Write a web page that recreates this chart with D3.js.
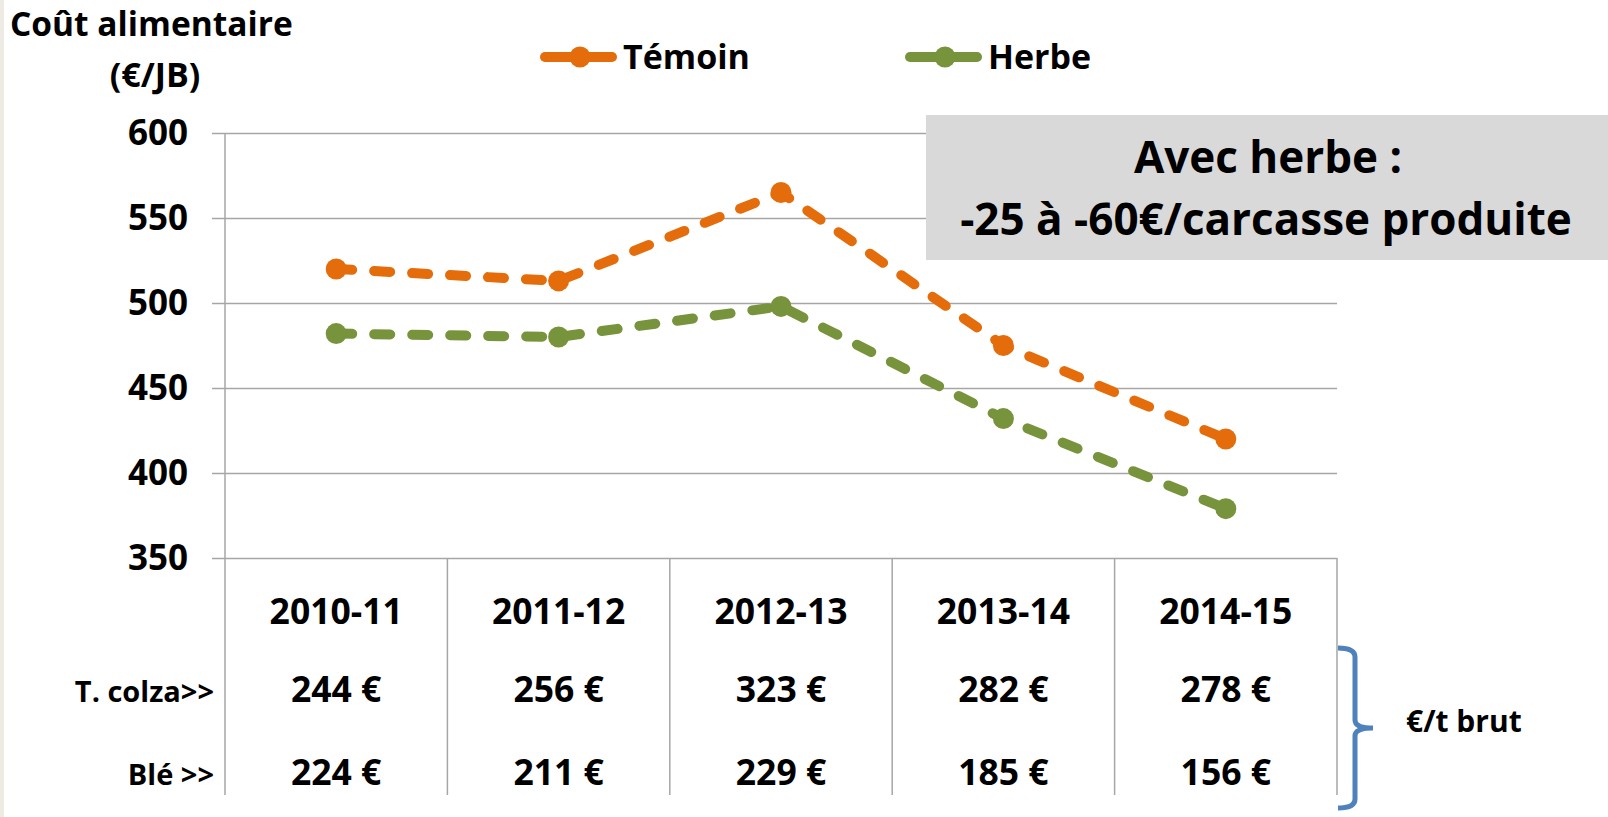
<!DOCTYPE html>
<html>
<head>
<meta charset="utf-8">
<script src="https://cdn.jsdelivr.net/npm/d3@7"></script>
<style>
  body { margin: 0; background: #fff; }
  svg { display: block; font-family: "Open Sans", sans-serif; font-weight: 700; }
</style>
</head>
<body>
<svg id="chart" width="1608" height="817"></svg>
<script>
const years = ["2010-11", "2011-12", "2012-13", "2013-14", "2014-15"];
const temoin = [520, 513, 565, 475, 420];
const herbe = [482, 480, 498, 432, 379];
const colza = [244, 256, 323, 282, 278];
const ble = [224, 211, 229, 185, 156];
const yTicks = [350, 400, 450, 500, 550, 600];

const orange = "#e46c0a";
const green = "#77933c";
const grid = "#a6a6a6";

let svg = d3.select("#chart");
let plotLeft = 225, plotRight = 1337, plotTop = 133, plotBottom = 558, tableBottom = 795;

let x = d3.scaleBand().domain(years).range([plotLeft, plotRight]);
let y = d3.scaleLinear().domain([350, 600]).range([plotBottom, plotTop]);

// slide edge
svg.append("rect").attr("x", 0).attr("y", 0).attr("width", 4).attr("height", 817).attr("fill", "#eeebe4");

// gridlines
svg.append("g")
    .attr("transform", "translate(" + plotLeft + ",0)")
    .call(d3.axisLeft(y).tickValues(yTicks).tickSize(-(plotRight - plotLeft)).tickFormat(""))
    .call(g => g.select(".domain").remove())
    .call(g => g.selectAll("line").attr("stroke", grid).attr("stroke-width", 1.5));

// y axis
svg.append("g")
    .attr("transform", "translate(" + plotLeft + ",0)")
    .call(d3.axisLeft(y).tickValues(yTicks).tickSize(13).tickPadding(24))
    .call(g => g.select(".domain").remove())
    .call(g => g.selectAll("line").attr("stroke", grid).attr("stroke-width", 1.5))
    .call(g => g.selectAll("text")
        .attr("font-family", "Open Sans").attr("font-weight", 700)
        .attr("font-size", 35).attr("fill", "#000"));

svg.append("line")
    .attr("x1", plotLeft).attr("x2", plotLeft).attr("y1", plotTop).attr("y2", tableBottom)
    .attr("stroke", grid).attr("stroke-width", 1.5);

// table separators
let bounds = years.map(d => x(d) + x.bandwidth());
svg.selectAll(".sep").data(bounds).enter().append("line")
    .attr("x1", d => d).attr("x2", d => d)
    .attr("y1", plotBottom).attr("y2", tableBottom)
    .attr("stroke", grid).attr("stroke-width", 1.5);

// series
let line = d3.line()
    .x((d, i) => x(years[i]) + x.bandwidth() / 2)
    .y(d => y(d));

[[temoin, orange], [herbe, green]].forEach(([vals, col]) => {
    svg.append("path")
        .datum(vals)
        .attr("d", line)
        .attr("fill", "none")
        .attr("stroke", col)
        .attr("stroke-width", 10)
        .attr("stroke-dasharray", "16,22")
        .attr("stroke-linecap", "round");
    svg.selectAll(null).data(vals).enter().append("circle")
        .attr("cx", (d, i) => x(years[i]) + x.bandwidth() / 2)
        .attr("cy", d => y(d))
        .attr("r", 10.5)
        .attr("fill", col);
});

// legend
let legend = [["Témoin", orange, 545], ["Herbe", green, 910]];
legend.forEach(([name, col, lx]) => {
    svg.append("line")
        .attr("x1", lx).attr("x2", lx + 67).attr("y1", 57).attr("y2", 57)
        .attr("stroke", col).attr("stroke-width", 10).attr("stroke-linecap", "round");
    svg.append("circle").attr("cx", lx + 35).attr("cy", 57).attr("r", 10.5).attr("fill", col);
    svg.append("text").attr("x", lx + 78).attr("y", 69)
        .attr("font-size", 34).text(name);
});

// y title
svg.append("text").attr("x", 10).attr("y", 36).attr("font-size", 33.5).text("Coût alimentaire");
svg.append("text").attr("x", 155).attr("y", 87).attr("font-size", 34)
    .attr("text-anchor", "middle").text("(€/JB)");

// annotation box
svg.append("rect").attr("x", 926).attr("y", 115).attr("width", 682).attr("height", 145)
    .attr("fill", "#d9d9d9");
svg.append("text").attr("x", 1268).attr("y", 173).attr("font-size", 44)
    .attr("text-anchor", "middle").text("Avec herbe :");
svg.append("text").attr("x", 1266).attr("y", 235).attr("font-size", 44)
    .attr("text-anchor", "middle").text("-25 à -60€/carcasse produite");

// table rows
let cx = d => x(d) + x.bandwidth() / 2;
svg.selectAll(".yr").data(years).enter().append("text")
    .attr("x", cx).attr("y", 624).attr("font-size", 35.5)
    .attr("text-anchor", "middle").text(d => d);
svg.selectAll(".colza").data(colza).enter().append("text")
    .attr("x", (d, i) => cx(years[i])).attr("y", 702).attr("font-size", 35.5)
    .attr("text-anchor", "middle").text(d => d + " €");
svg.selectAll(".ble").data(ble).enter().append("text")
    .attr("x", (d, i) => cx(years[i])).attr("y", 785).attr("font-size", 35.5)
    .attr("text-anchor", "middle").text(d => d + " €");

svg.append("text").attr("x", 214).attr("y", 702).attr("font-size", 29)
    .attr("text-anchor", "end").text("T. colza>>");
svg.append("text").attr("x", 214).attr("y", 785).attr("font-size", 29)
    .attr("text-anchor", "end").text("Blé >>");

// bracket
svg.append("path")
    .attr("d", "M1338,648 Q1355,648 1355,657 L1355,720 Q1355,728 1373,728 Q1355,728 1355,736 L1355,799 Q1355,808 1338,808")
    .attr("fill", "none").attr("stroke", "#4f81bd").attr("stroke-width", 5);
svg.append("text").attr("x", 1406).attr("y", 732).attr("font-size", 30).text("€/t brut");
</script>
</body>
</html>
